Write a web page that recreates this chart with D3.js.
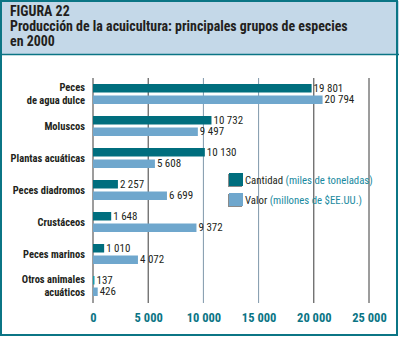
<!DOCTYPE html>
<html>
<head>
<meta charset="utf-8">
<script src="https://cdn.jsdelivr.net/npm/d3@7"></script>
<style>
  body { margin: 0; background: #fff; }
  svg { display: block; }
</style>
</head>
<body>
<div id="chart"></div>
<script>
var categories = [
  ["Peces", "de agua dulce"],
  ["Moluscos"],
  ["Plantas acuáticas"],
  ["Peces diadromos"],
  ["Crustáceos"],
  ["Peces marinos"],
  ["Otros animales", "acuáticos"]
];
var cantidad = [19801, 10732, 10130, 2257, 1648, 1010, 137];
var valor = [20794, 9497, 5608, 6699, 9372, 4072, 426];
var ticks = [0, 5000, 10000, 15000, 20000, 25000];
var titleLines = ["FIGURA 22", "Producción de la acuicultura: principales grupos de especies", "en 2000"];

var W = 400, H = 338;
var teal = "#0b7585", dark = "#006e7e", light = "#6fa7cd";
var font = "'Liberation Sans Narrow', 'Roboto Condensed', 'DejaVu Sans Condensed', sans-serif";
var fmt = function (v) { return d3.format(",")(v).replace(/,/g, " "); };

var svg = d3.select("#chart").append("svg")
    .attr("width", W)
    .attr("height", H);

// header box
svg.append("rect")
    .attr("x", 1).attr("y", 1).attr("width", W - 2).attr("height", 53)
    .attr("fill", "#c4d8e8");
svg.append("line")
    .attr("x1", 1).attr("x2", W - 1).attr("y1", 54.5).attr("y2", 54.5)
    .attr("stroke", teal).attr("stroke-width", 1.5);
svg.append("rect")
    .attr("x", 1).attr("y", 1).attr("width", W - 4).attr("height", H - 4)
    .attr("fill", "none").attr("stroke", teal).attr("stroke-width", 2);

svg.selectAll("text.title")
    .data(titleLines)
    .enter().append("text")
    .attr("class", "title")
    .attr("x", 10)
    .attr("y", (d, i) => 16 + i * 15)
    .style("font-family", font)
    .style("font-weight", "bold")
    .style("font-size", "13.9px")
    .attr("fill", "#231f20")
    .text(d => d);

var xScale = d3.scaleLinear().domain([0, 25000]).range([93, 369]);
var yScale = d3.scaleBand().domain(d3.range(categories.length)).range([78, 302]);
var barH = 8.5;

// gridlines
svg.selectAll("line.grid")
    .data(ticks)
    .enter().append("line")
    .attr("class", "grid")
    .attr("x1", d => xScale(d)).attr("x2", d => xScale(d))
    .attr("y1", 78).attr("y2", 303)
    .attr("stroke", (d) => (d === 10000 || d === 15000) ? "#7f98aa" : "#3a3a3a")
    .attr("stroke-width", 1);

var xAxis = d3.axisBottom(xScale).tickValues(ticks).tickSize(0).tickFormat(fmt);
var gx = svg.append("g").attr("transform", "translate(0,310)").call(xAxis);
gx.select(".domain").remove();
gx.selectAll("text")
    .style("font-family", font)
    .style("font-weight", "bold")
    .style("font-size", "12.5px")
    .attr("fill", teal);

var groups = svg.selectAll("g.cat")
    .data(categories)
    .enter().append("g")
    .attr("class", "cat")
    .attr("transform", (d, i) => "translate(0," + (yScale(i) + yScale.bandwidth() / 2) + ")");

groups.append("rect")
    .attr("x", xScale(0))
    .attr("y", -10)
    .attr("width", (d, i) => xScale(cantidad[i]) - xScale(0))
    .attr("height", barH)
    .attr("fill", (d, i) => cantidad[i] < 500 ? "#1a9cb0" : dark);

groups.append("rect")
    .attr("x", xScale(0))
    .attr("y", 1.5)
    .attr("width", (d, i) => xScale(valor[i]) - xScale(0))
    .attr("height", barH)
    .attr("fill", light);

groups.append("text")
    .attr("x", (d, i) => xScale(cantidad[i]) + 2)
    .attr("y", -2.5)
    .style("font-family", font)
    .style("font-size", "11px")
    .attr("fill", "#231f20")
    .text((d, i) => fmt(cantidad[i]));

groups.append("text")
    .attr("x", (d, i) => xScale(valor[i]) + 2)
    .attr("y", 9)
    .style("font-family", font)
    .style("font-size", "11px")
    .attr("fill", "#231f20")
    .text((d, i) => fmt(valor[i]));

groups.each(function (d) {
  var t = d3.select(this).append("text")
      .attr("text-anchor", "end")
      .style("font-family", font)
      .style("font-weight", "bold")
      .style("font-size", "10.5px")
      .attr("fill", "#231f20");
  var y0 = d.length === 1 ? 3.5 : -3;
  d.forEach((line, j) => {
    t.append("tspan").attr("x", 85).attr("y", y0 + j * 13).text(line);
  });
});

// legend
var legend = [
  { name: "Cantidad", unit: "(miles de toneladas)", color: dark },
  { name: "Valor", unit: "(millones de $EE.UU.)", color: light }
];
var lg = svg.selectAll("g.legend")
    .data(legend)
    .enter().append("g")
    .attr("class", "legend")
    .attr("transform", (d, i) => "translate(229," + (173 + i * 20) + ")");
lg.append("rect")
    .attr("x", -1).attr("y", 1).attr("width", 14).attr("height", 13)
    .attr("fill", "#8a8a8a");
lg.append("rect")
    .attr("x", 0).attr("y", 0).attr("width", 14).attr("height", 13)
    .attr("fill", d => d.color);
var lt = lg.append("text")
    .attr("x", 16).attr("y", 11)
    .style("font-family", font)
    .style("font-size", "10.8px");
lt.append("tspan").attr("fill", "#231f20").text(d => d.name + " ");
lt.append("tspan").attr("fill", "#1a8aa0").text(d => d.unit);
</script>
</body>
</html>
